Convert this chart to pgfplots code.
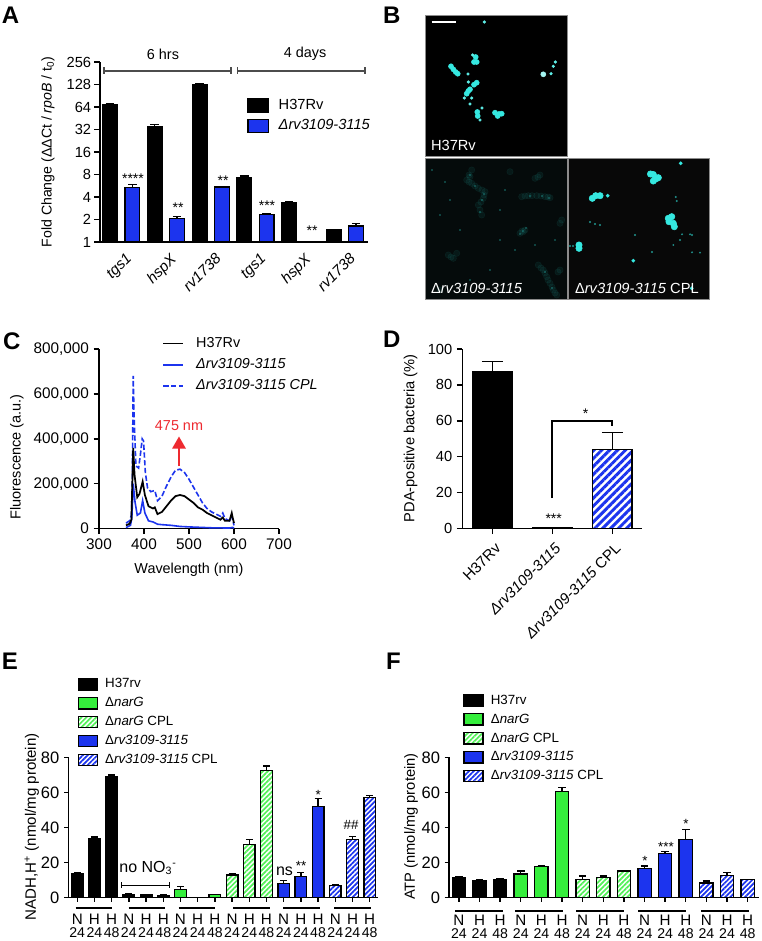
\documentclass[border=0pt]{standalone}
\usepackage{fontspec}
\setmainfont{Liberation Sans}
\usepackage{pgfplots}
\pgfplotsset{compat=1.18}
\usetikzlibrary{arrows.meta,patterns.meta}
\definecolor{myblue}{HTML}{1C34EE}
\definecolor{mygreen}{HTML}{35EE3C}
\definecolor{myred}{HTML}{EE2A30}
\definecolor{mycyan}{HTML}{35E8E0}
\newcommand\fs[1]{\fontsize{#1}{#1}\selectfont}
\newcommand\Tk[2]{{\fs{11.4}#1}\\[-2pt]{\fs{10.6}#2}}
\pgfplotsset{
  base/.style={
    scale only axis, clip=false,
    axis y line=left, axis x line=bottom, axis line style={-,line width=1.1pt,black},
    tick style={line width=1pt,black}, tick align=outside,
    major tick length=4pt, minor tick length=0pt,
    /pgf/number format/assume math mode=true,
    y label style={anchor=center,rotate=0},
    x label style={anchor=center},
  },
  bar/.style={ybar, bar shift=0pt, draw=black, line width=1pt},
  errs/.style={error bars/y dir=plus, error bars/y explicit,
     error bars/error bar style={line width=1pt,black,solid,fill=none},
     error bars/error mark options={rotate=90,mark size=#1,line width=1pt,black,solid}},
  hatchG/.style={pattern={Lines[angle=45,distance=2.6pt,line width=1.3pt]},pattern color=mygreen!85!white},
  hatchB/.style={pattern={Lines[angle=45,distance=2.6pt,line width=1.3pt]},pattern color=myblue},
  keyleg/.style={
     legend cell align=left,
     legend image code/.code={\draw[##1,line width=1pt] (0pt,-4.2pt) rectangle (14.2pt,4.2pt);},
     legend style={draw=none,fill=none,inner sep=0pt,outer sep=0pt,row sep=4.7pt,anchor=north west,
       font=\fs{10},nodes={inner sep=0pt,outer sep=0pt,text height=7.5pt,text depth=2pt},
       /tikz/column 2/.style={column sep=0pt},/tikz/column 1/.style={column sep=5.5pt}}},
}
\begin{document}
\begin{tikzpicture}
\path[use as bounding box,fill=white] (0,0) rectangle (761*0.75pt,-941*0.75pt);

% ---------- A
\begin{axis}[base, at={(100*0.75pt,-242*0.75pt)}, anchor=south west,
  width=268*0.75pt, height=180*0.75pt,
  ymode=log, log basis y=2, ymin=1, ymax=256,
  xmin=-0.447, xmax=11.53,
  ytick={1,2,4,8,16,32,64,128,256}, yticklabels={1,2,4,8,16,32,64,128,256},
  xtick={0.5,2.5,4.5,6.5,8.5,10.5},
  xticklabels={\textit{tgs1},\textit{hspX},\textit{rv1738},\textit{tgs1},\textit{hspX},\textit{rv1738}},
  x tick style={draw=none}, major tick length=4.5pt,
  y tick label style={font=\fs{11},inner sep=2pt},
  x tick label style={font=\fs{11.3},rotate=45,anchor=north east,inner sep=1pt,xshift=1pt,yshift=-3pt},
  ylabel={Fold Change (ΔΔCt / \textit{rpoB} / t\textsubscript{0})},
  y label style={at={(axis description cs:-0.194,0.5)},rotate=0,font=\fs{10.6}},
  legend cell align=left,
  legend image code/.code={\draw[#1,line width=1pt] (0pt,-5pt) rectangle (15.5pt,5pt);},
  legend style={at={(axis description cs:0.549,0.80)},anchor=north west,draw=none,fill=none,inner sep=0pt,row sep=4.2pt,
     font=\fs{11},nodes={inner sep=0pt,outer sep=0pt,text height=8pt,text depth=2pt},
     /tikz/column 1/.style={column sep=7pt}},
]
\addplot[bar,fill=black,bar width=11pt,errs=3.2pt] coordinates {
 (0,69) +- (0,2) (2,34.5) +- (0,3) (4,126) +- (0,5) (6,7.33) +- (0,0.27) (8,3.33) +- (0,0.13) (10,1.45) +- (0,0.02)};
\addlegendentry{H37Rv}
\addplot[bar,fill=myblue,bar width=11pt,errs=3.2pt] coordinates {
 (1,5.33) +- (0,0.57) (3,2.07) +- (0,0.11) (5,5.44) +- (0,0.11) (7,2.32) +- (0,0.1) (11,1.64) +- (0,0.12)};
\addlegendentry{\textit{Δrv3109-3115}}
\end{axis}

% ---------- B (micrograph spots, in the picture's pixel frame)
\begin{axis}[at={(425*0.75pt,-300*0.75pt)},anchor=south west,scale only axis,
  width=285*0.75pt,height=285*0.75pt,hide axis,clip=false,
  xmin=425,xmax=710,ymin=15,ymax=300,y dir=reverse]
\addplot[fill=black,draw=black!45,line width=0.7pt] coordinates {(425.7,15.3)(567.3,15.3)(567.3,156.7)(425.7,156.7)} --cycle;
\addplot[fill={rgb,255:red,5;green,11;blue,11},draw=black!45,line width=0.7pt] coordinates {(425.7,158.7)(567.3,158.7)(567.3,299.3)(425.7,299.3)} --cycle;
\addplot[fill={rgb,255:red,8;green,8;blue,8},draw=black!45,line width=0.7pt] coordinates {(568.3,158.7)(709.7,158.7)(709.7,299.3)(568.3,299.3)} --cycle;
% H37Rv
\addplot[only marks,mark=*,mark size=1.9pt,color=mycyan,mark options={draw=none}] coordinates {
 (451,66.3)(453.3,69.3)(455.7,72)(457.7,73.7)(475.7,57)(476.7,62)(474,62)(474,84.7)(476.7,82.7)
 (468.3,91)(470,89.3)(466.7,93.7)(477.3,112)(477.7,116)(495,112.7)(497.7,116)(501.7,113.7)(499,114)};
\addplot[only marks,mark=*,mark size=1pt,color=mycyan!80!white,mark options={draw=none}] coordinates {
 (551,73.7)(553.3,66.3)(555.3,62)(471.7,98)(468.3,82)(472.7,55)(464.3,98)(480,120)(484.3,22)(468,74)(470,104)(482,108)};
\addplot[only marks,mark=*,mark size=1.9pt,color=white!55!mycyan,mark options={draw=none}] coordinates {(543.3,74.3)};
% knockout, dim clouds
\addplot[only marks,mark=*,mark size=2.4pt,color=mycyan!60!black,opacity=0.11,mark options={draw=none}] coordinates {
 (471.7,170)(469,175)(466.7,180)(469,182)(471.7,183.3)(475,186)(478.3,188.3)(482,190)(485,191.7)(484,195)(483.3,198.3)(481,202)(478.3,205)(480,210)(481.7,215)(470,176.7)
 (510,171.7)(535,178.3)(538,177)(540,175)(521.7,196.7)(525,196)(528.3,195.7)(532,195.7)(536.7,195.7)(541,196)(545,196.7)(548,197)(550,197.7)
 (523.3,231.7)(520,233.3)(525,230)(522,231)(561.7,220)(560,223.3)(448.3,255)(451,257)(453.3,258.3)(456.7,253.3)
 (538.3,265)(541,268)(543.3,270)(545,273)(546.7,276.7)(548,280)(550,283.3)(552,287)(553.3,290)(555,293)(556.7,295)(440,290)(560,270)(558,272)};
\addplot[only marks,mark=*,mark size=0.4pt,color=mycyan!65!black,opacity=0.6,mark options={draw=none}] coordinates {
 (470,175)(475,186)(482,200)(480,212)(484,194)(523,231)(526,228)(520,234)(530,196)(542,196)(549,198)
 (545,272)(552,288)(432,170)(445,182)(500,210)(515,250)(490,270)(460,230)(440,215)(505,190)(555,240)(535,245)(470,280)(500,240)(450,200)};
% CPL
\addplot[only marks,mark=*,mark size=2.4pt,color=mycyan,mark options={draw=none}] coordinates {
 (650.5,174)(653.3,174.5)(655.7,179)(658.3,177.7)(653.3,181)(592.3,198.3)(595.7,195.7)(600,195.7)
 (668.3,218.3)(671.7,216.7)(673.3,223.3)(674.3,226.7)(669,221.7)(579,245)(579,248.3)};
\addplot[only marks,mark=*,mark size=1.2pt,color=mycyan,mark options={draw=none}] coordinates {(607.7,195.7)(633.3,260.7)(680.7,163.3)(691.7,288.3)};
\addplot[only marks,mark=*,mark size=0.5pt,color=mycyan!60!black,mark options={draw=none}] coordinates {
 (590,222)(595,224)(600,225)(675.7,197)(676.7,201)(682,234.3)(690,234.3)(692,235)(692,252.3)(700,252.6)
 (573,246)(570,246)(673.3,245)(680,240)(635,235)(652,252)};
\end{axis}

% ---------- C
\begin{axis}[base, at={(99*0.75pt,-528.7*0.75pt)}, anchor=south west,
  width=180*0.75pt, height=179.7*0.75pt,
  xmin=300,xmax=700,ymin=0,ymax=800000,
  xtick={300,400,500,600,700}, ytick={0,200000,400000,600000,800000},
  yticklabels={0,{200,000},{400,000},{600,000},{800,000}},
  scaled y ticks=false,
  tick label style={font=\fs{11.5}},
  xlabel={Wavelength (nm)},ylabel={Fluorescence (a.u.)},
  x label style={at={(axis description cs:0.5,-0.23)},font=\fs{10.8}},
  y label style={at={(axis description cs:-0.456,0.40)},rotate=0,font=\fs{10.9}},
  reverse legend, legend cell align=left,
  legend image code/.code={\draw[#1,line width=1.2pt] (0pt,0pt) -- (15pt,0pt);},
  legend style={at={(axis description cs:0.352,1.072)},anchor=north west,draw=none,fill=none,inner sep=0pt,row sep=5.6pt,
     font=\fs{10.8},nodes={inner sep=0pt,outer sep=0pt,text height=8pt,text depth=2.5pt},
     /tikz/column 1/.style={column sep=9pt}},
]
\addplot[myblue,line width=1.2pt,dash pattern=on 4pt off 1.8pt] coordinates {
 (360,25000)(368,35000)(372,60000)(374,200000)(376,680000)(378,500000)(382,280000)(388,270000)(392,330000)(396,400000)(399,390000)(403,250000)(408,180000)(415,165000)(424,170000)(430,125000)(440,145000)(450,190000)(460,230000)(470,260000)(480,265000)(490,250000)(500,220000)(510,185000)(520,150000)(530,115000)(540,90000)(550,75000)(560,65000)(570,55000)(575,70000)(580,45000)(590,35000)(595,55000)(600,15000)};
\addlegendentry{\textit{Δrv3109-3115 CPL}}
\addplot[myblue,line width=1.2pt] coordinates {
 (360,5000)(370,15000)(373,50000)(376,200000)(380,120000)(385,60000)(392,70000)(397,125000)(402,70000)(410,35000)(420,30000)(425,25000)(430,20000)(440,18000)(460,15000)(480,10000)(500,8000)(550,4000)(590,3000)(597,6000)(600,2000)};
\addlegendentry{\textit{Δrv3109-3115}}
\addplot[black,line width=1.3pt] coordinates {
 (360,15000)(368,22000)(372,40000)(374,200000)(376,360000)(379,240000)(385,140000)(390,155000)(397,210000)(402,150000)(410,100000)(420,90000)(424,95000)(430,65000)(440,75000)(450,100000)(460,125000)(470,145000)(480,150000)(490,145000)(500,130000)(510,115000)(520,95000)(530,85000)(540,70000)(550,60000)(560,50000)(570,40000)(575,50000)(580,35000)(590,35000)(595,70000)(597,50000)(600,25000)};
\addlegendentry{H37Rv}
\end{axis}

% ---------- D
\begin{axis}[base, at={(462.3*0.75pt,-528.7*0.75pt)}, anchor=south west,
  width=180*0.75pt, height=179.7*0.75pt,
  xmin=-0.5,xmax=2.5,ymin=0,ymax=100,
  ytick={0,20,40,60,80,100}, xtick={0,1,2},
  xticklabels={H37Rv,\textit{Δrv3109-3115},\textit{Δrv3109-3115} CPL},
  y tick label style={font=\fs{11}},
  x tick label style={font=\fs{11.3},rotate=45,anchor=north east,inner sep=1pt,xshift=-2pt,yshift=-4pt},
  ylabel={PDA-positive bacteria (\%)},
  y label style={at={(axis description cs:-0.287,0.503)},rotate=0,font=\fs{11}},
]
\addplot[bar,fill=black,bar width=29.7pt,errs=7.8pt] coordinates {(0,87.5) +- (0,5.5)};
\addplot[bar,fill=black,bar width=29.7pt,errs=7.8pt] coordinates {(1,0.7) +- (0,0.1)};
\addplot[bar,bar width=29.7pt,pattern={Lines[angle=45,distance=4.2pt,line width=2.2pt]},pattern color=myblue,errs=7.8pt] coordinates {(2,44) +- (0,9.5)};
\end{axis}

% ---------- E
\begin{axis}[base, at={(68.3*0.75pt,-897.7*0.75pt)}, anchor=south west,
  width=310*0.75pt, height=140.4*0.75pt,
  xmin=-0.52,xmax=17.5,ymin=0,ymax=80,
  ytick={0,20,40,60,80},
  xtick={0,1,...,17},
  xticklabels={{\Tk{N}{24}},{\Tk{H}{24}},{\Tk{H}{48}},{\Tk{N}{24}},{\Tk{H}{24}},{\Tk{H}{48}},{\Tk{N}{24}},{\Tk{H}{24}},{\Tk{H}{48}},{\Tk{N}{24}},{\Tk{H}{24}},{\Tk{H}{48}},{\Tk{N}{24}},{\Tk{H}{24}},{\Tk{H}{48}},{\Tk{N}{24}},{\Tk{H}{24}},{\Tk{H}{48}}},
  major tick length=3.2pt,
  y tick label style={font=\fs{12.4}},
  x tick label style={align=center,inner sep=0pt,yshift=-8.5pt},
  ylabel={NADH,H\textsuperscript{+} (nmol/mg protein)},
  y label style={at={(axis description cs:-0.118,0.506)},rotate=0,font=\fs{11.3}},
  keyleg, legend style={at={(axis description cs:0.03,1.565)}},
]
\addplot[bar,fill=black,bar width=8.7pt,errs=2.6pt] coordinates {(0,13.5) +- (0,1) (1,33.5) +- (0,1) (2,69) +- (0,1)};
\addlegendentry{H37rv}
\addplot[bar,fill=black,bar width=8.7pt,errs=2.6pt,forget plot] coordinates {(3,1.8) +- (0,0.3) (4,1.5) +- (0,0.5) (5,1.2) +- (0,0.7)};
\addplot[bar,fill=mygreen,bar width=8.7pt,errs=2.6pt] coordinates {(6,4.5) +- (0,2) (8,1.7) +- (0,0.3)};
\addlegendentry{Δ\textit{narG}}
\addplot[bar,hatchG,bar width=8.7pt,errs=2.6pt] coordinates {(9,13) +- (0,0.6) (10,30.5) +- (0,2.5) (11,72.5) +- (0,2.5)};
\addlegendentry{Δ\textit{narG} CPL}
\addplot[bar,fill=myblue,bar width=8.7pt,errs=2.6pt] coordinates {(12,8) +- (0,1.8) (13,12) +- (0,2.5) (14,52) +- (0,4.5)};
\addlegendentry{Δ\textit{rv3109-3115}}
\addplot[bar,hatchB,bar width=8.7pt,errs=2.6pt] coordinates {(15,7) +- (0,0.7) (16,33) +- (0,2) (17,57) +- (0,1.3)};
\addlegendentry{Δ\textit{rv3109-3115} CPL}
\end{axis}

% ---------- F
\begin{axis}[base, at={(449*0.75pt,-897.7*0.75pt)}, anchor=south west,
  width=310*0.75pt, height=140.4*0.75pt,
  xmin=-0.48,xmax=14.55,ymin=0,ymax=80,
  ytick={0,20,40,60,80},
  xtick={0,1,...,14},
  xticklabels={{\Tk{N}{24}},{\Tk{H}{24}},{\Tk{H}{48}},{\Tk{N}{24}},{\Tk{H}{24}},{\Tk{H}{48}},{\Tk{N}{24}},{\Tk{H}{24}},{\Tk{H}{48}},{\Tk{N}{24}},{\Tk{H}{24}},{\Tk{H}{48}},{\Tk{N}{24}},{\Tk{H}{24}},{\Tk{H}{48}}},
  major tick length=3.2pt,
  y tick label style={font=\fs{12.4}},
  x tick label style={align=center,inner sep=0pt,yshift=-9.5pt},
  ylabel={ATP (nmol/mg protein)},
  y label style={at={(axis description cs:-0.1226,0.506)},rotate=0,font=\fs{11}},
  keyleg, legend style={at={(axis description cs:0.046,1.45)}},
]
\addplot[bar,fill=black,bar width=10pt,errs=2.8pt] coordinates {(0,11.7) +- (0,0.3) (1,9.7) +- (0,0.3) (2,10) +- (0,0.8)};
\addlegendentry{H37rv}
\addplot[bar,fill=mygreen,bar width=10pt,errs=2.8pt] coordinates {(3,13.5) +- (0,1.8) (4,17.7) +- (0,0.5) (5,60.7) +- (0,2.1)};
\addlegendentry{Δ\textit{narG}}
\addplot[bar,hatchG,bar width=10pt,errs=2.8pt] coordinates {(6,10.2) +- (0,2.1) (7,11.7) +- (0,0.6) (8,15.2) +- (0,0.4)};
\addlegendentry{Δ\textit{narG} CPL}
\addplot[bar,fill=myblue,bar width=10pt,errs=2.8pt] coordinates {(9,16.5) +- (0,1.5) (10,25.3) +- (0,0.9) (11,33) +- (0,6)};
\addlegendentry{Δ\textit{rv3109-3115}}
\addplot[bar,hatchB,bar width=10pt,errs=2.8pt] coordinates {(12,8.3) +- (0,1.2) (13,12.7) +- (0,1.8) (14,10.3) +- (0,0.2)};
\addlegendentry{Δ\textit{rv3109-3115} CPL}
\end{axis}

% ---------- annotations in pixel frame
\begin{scope}[x=0.75pt,y=-0.75pt,every node/.style={inner sep=0pt,outer sep=0pt}]
\foreach \l/\x/\y in {A/2/15,B/383/15,C/3/341,D/383/339,E/2/661,F/386/661}
  \node[anchor=west,font=\fs{18}\bfseries] at (\x,\y) {\l};
% A
\draw[black!70,line width=0.9pt] (104,67.5)--(104,74.5) (104,71)--(231,71) (231,67.5)--(231,74.5);
\draw[black!70,line width=0.9pt] (237.5,67.5)--(237.5,74.5) (237.5,71)--(365,71) (365,67.5)--(365,74.5);
\node[font=\fs{10.8}] at (163,54) {6 hrs};
\node[font=\fs{10.8}] at (305,54) {4 days};
\foreach \s/\x/\y in {****/133/177,**/178/206,**/223/179,***/267/204,**/312/229}
  \node[font=\fs{10.5}] at (\x,\y+1.5) {\s};
% B
\draw[white,line width=1.6pt] (431.7,22.3)--(455.7,22.3);
\node[anchor=west,white,font=\fs{11}] at (431,145.5) {H37Rv};
\node[anchor=west,white,font=\fs{11}] at (431,288) {Δ\textit{rv3109-3115}};
\node[anchor=west,white,font=\fs{11}] at (575,288) {Δ\textit{rv3109-3115} CPL};
% C
\draw[myred,line width=1.3pt,-{Triangle[length=9pt,width=10pt]}] (179,466)--(179,436.5);
\node[myred,font=\fs{10.8}] at (179,425.7) {475 nm};
% D
\draw[black,line width=1.3pt] (552.3,498)--(552.3,421)--(612.3,421)--(612.3,426);
\node[font=\fs{10.5}] at (585.5,414) {*};
\node[font=\fs{10.5}] at (553.7,519) {***};
% E
\foreach \a/\b in {227/337,386/496,536/646,700/810,849/959,1003/1113}
  \draw[black,line width=1.5pt] (\a/3,640+803/3)--(\b/3,640+803/3);
\draw[black,line width=0.7pt] (121.3,882)--(121.3,888) (121.3,885.3)--(169.3,885.3) (169.3,882)--(169.3,888);
\node[font=\fs{12}] at (148,868) {no NO\textsubscript{3}\textsuperscript{-}};
\node[font=\fs{12}] at (284.5,871) {ns};
\node[font=\fs{10}] at (301,866) {**};
\node[font=\fs{10}] at (318.3,795) {*};
\node[font=\fs{10}] at (351,825) {\#\#};
% F
\foreach \a/\b in {165/308,345/488,528/671,715/858,903/1047}
  \draw[black,line width=1.5pt] (400+\a/3,640+812/3)--(400+\b/3,640+812/3);
\node[font=\fs{10}] at (645,860.5) {*};
\node[font=\fs{10}] at (666,847) {***};
\node[font=\fs{10}] at (686,824) {*};
\end{scope}
\end{tikzpicture}
\end{document}
